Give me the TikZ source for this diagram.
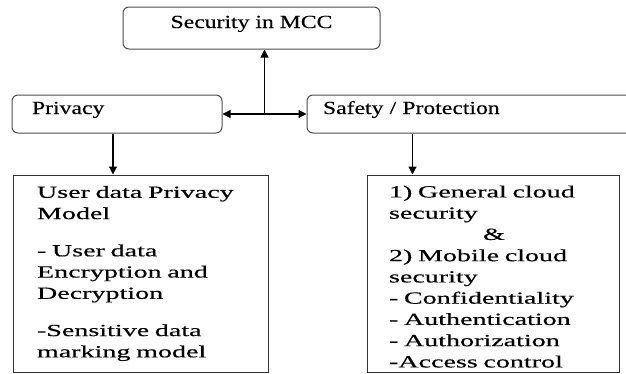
\documentclass[tikz,border=0pt]{standalone}
\usepackage{fontspec}
\setmainfont{Liberation Serif}
\newfontfamily\labelfont[FakeStretch=1.28,FakeBold=0.3]{Liberation Serif}
\newfontfamily\boxfont[FakeStretch=1.65,FakeBold=0.4]{Liberation Serif}
\usetikzlibrary{arrows.meta,positioning,calc}
\tikzset{
  rblk/.style={rectangle, rounded corners=6pt, draw=black!70, line width=1pt,
               font=\labelfont\fontsize{18.5}{22}\selectfont, text height=12pt, text depth=12pt},
  sblk/.style={rectangle, draw=black!80, line width=1pt, align=left,
               font=\boxfont\fontsize{17}{21.25}\selectfont, minimum height=197pt},
  sarr/.style={-{Triangle[length=8pt,width=8pt]}, line width=1.1pt},
}

\begin{document}
\begin{tikzpicture}[x=1pt,y=-1pt]
        \useasboundingbox (0,0) rectangle (626,373);
        % top
        \node[rblk,minimum width=257pt,minimum height=42pt](sec) at (251.5,28){Security in MCC};
        % middle row
        \node[rblk,minimum height=38pt,inner xsep=20pt,text width=170pt,align=left](priv) at (117,114){Privacy};
        \node[rblk,minimum height=38pt,inner xsep=16pt,text width=302pt,align=left,right=84pt of priv](safe){Safety / Protection};
        \coordinate (mid) at ($(priv.east)!0.5!(safe.west)$);
        \draw[sarr,{Triangle[length=8pt,width=8pt]}-{Triangle[length=8pt,width=8pt]}](priv)--(safe);
        \draw[sarr](mid)--(mid |- sec.south);
        % bottom row
        \node[sblk,inner xsep=24pt,text width=207pt,below right=41pt and 1pt of priv.south west](pbox){User data Privacy\\Model\\[16pt]- User data\\Encryption and\\Decryption\\[16pt]-Sensitive data\\marking model};
        \node[sblk,inner xsep=22pt,text width=208pt,below right=41pt and 60pt of safe.south west](sbox){\rule{0pt}{18pt}1) General cloud\\security\\\hspace*{94pt}\&\\2) Mobile cloud\\security\\- Confidentiality\\- Authentication\\- Authorization\\-Access control};
        \coordinate (pdn) at ([xshift=-4pt]priv.south);
        \coordinate (sdn) at ([xshift=106pt]safe.south west);
        \draw[sarr](pdn)--(pdn |- pbox.north);\draw[sarr](sdn)--(sdn |- sbox.north);
    \end{tikzpicture}
\end{document}
